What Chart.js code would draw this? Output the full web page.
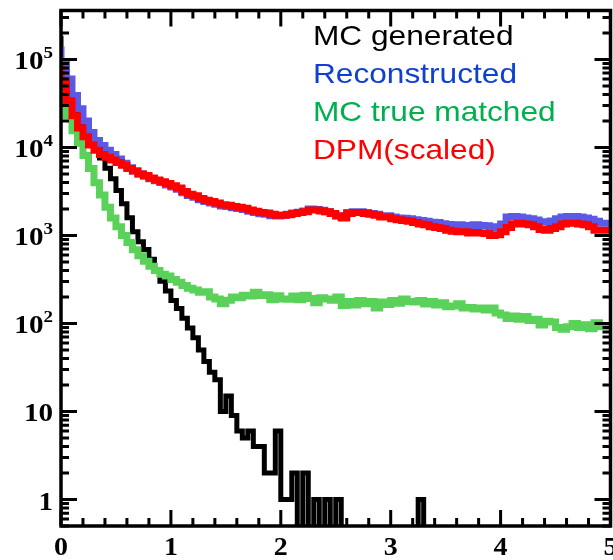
<!DOCTYPE html>
<html><head><meta charset="utf-8">
<script src="https://cdn.jsdelivr.net/npm/chart.js@4.4.0/dist/chart.umd.min.js"></script>
<style>html,body{margin:0;padding:0;background:#fff;}#wrap{width:613px;height:560px;}</style>
</head><body><div id="wrap"><canvas id="c" width="613" height="560"></canvas></div>
<script>
// ---- data (histograms, 100 bins of width 0.05 from 0 to 5) ----
const xRange = [0, 5];
const nBins = 100;
const seriesLabels = ["MC generated", "Reconstructed", "MC true matched", "DPM(scaled)"];
const mcGenerated = [186000,88000,58000,37000,25000,17500,13000,10000,7600,5800,
 4400,3240,2290,1585,1100,851,692,537,407,302,
 234,182,148,115,89,69,50,37,28,23,
 10,15,9,6,5,6,4,4,2,2,
 6,1,1,2,0,2,0,1,0,1,
 0,1,0,0,0,0,0,0,0,0,
 0,0,0,0,0,0,1,0,0,0,
 0,0,0,0,0,0,0,0,0,0,
 0,0,0,0,0,0,0,0,0,0,
 0,0,0,0,0,0,0,0,0,0];
const reconstructed = [140000,91000,60000,39000,27500,20000,14800,12000,10500,9300,
 8300,7400,6600,5900,5400,5000,4700,4400,4200,4000,
 3750,3550,3350,3050,2850,2720,2540,2430,2340,2260,
 2160,2140,2070,2020,1970,1880,1820,1760,1740,1680,
 1660,1700,1740,1800,1840,1900,2000,1970,1930,1860,
 1780,1680,1620,1820,1860,1860,1820,1780,1740,1680,
 1680,1620,1580,1570,1550,1510,1480,1450,1410,1400,
 1360,1330,1320,1320,1300,1290,1320,1300,1290,1230,
 1260,1350,1620,1640,1620,1580,1550,1500,1430,1410,
 1460,1550,1620,1640,1640,1620,1580,1530,1450,1380];
const mcTrueMatched = [52500,31600,22900,15500,11200,8130,5750,3980,2880,2090,
 1580,1260,1000,830,690,590,510,447,400,363,
 347,316,295,270,251,240,226,230,200,190,
 168,184,200,196,210,205,226,208,212,186,
 206,190,188,205,186,210,192,172,196,190,
 184,200,160,178,162,182,168,178,150,176,
 164,182,170,190,178,176,182,166,178,162,
 172,155,158,168,150,152,146,150,142,150,
 132,125,114,122,112,120,108,112,96,106,
 104,90,86,92,100,90,97,87,102,92];
const dpmScaled = [87000,57500,34000,23000,16600,13200,10700,9300,8300,7760,
 7200,6760,6300,5750,5400,5000,4800,4500,4270,4070,
 3900,3670,3470,3160,2950,2820,2630,2510,2430,2340,
 2240,2210,2140,2090,2040,1950,1880,1820,1800,1740,
 1700,1700,1720,1780,1820,1860,1950,1950,1900,1860,
 1780,1660,1580,1780,1820,1820,1780,1740,1700,1620,
 1620,1550,1510,1480,1450,1400,1350,1320,1260,1230,
 1200,1150,1120,1100,1100,1070,1080,1070,1050,1000,
 1020,1100,1230,1350,1380,1350,1320,1260,1170,1150,
 1200,1260,1350,1380,1380,1350,1320,1260,1150,1150];
const xTickValues = [0, 1, 2, 3, 4, 5];
const xTickLabels = ["0", "1", "2", "3", "4", "5"];
const yTickValues = [1, 10, 100, 1000, 10000, 100000];
const yTickBase = ["1", "10", "10", "10", "10", "10"];
const yTickExp = ["", "", "2", "3", "4", "5"];
const yRange = [0.5, 360000];

// ---- build histogram step points ----
function histPoints(vals) {
  const w = (xRange[1] - xRange[0]) / nBins;
  const pts = vals.map((v, i) => ({ x: xRange[0] + i * w, y: v > 0 ? v : 0.1 }));
  const last = vals[vals.length - 1];
  pts.push({ x: xRange[1], y: last > 0 ? last : 0.1 });
  return pts;
}
const lineColors = ["#000000", "#5a5ae6", "#5ad25a", "#ff0000"];
const textColors = ["#000000", "#1040d0", "#00b04f", "#ff0000"];
const allSeries = [mcGenerated, reconstructed, mcTrueMatched, dpmScaled];
const orders = [3, 2, 1, 0];
const widths = [5, 7, 7, 7];

const datasets = allSeries.map((s, k) => ({
  label: seriesLabels[k], data: histPoints(s), borderColor: lineColors[k],
  borderWidth: widths[k], stepped: 'after', pointRadius: 0, fill: false,
  tension: 0, clip: 0, borderJoinStyle: 'miter', borderCapStyle: 'butt', order: orders[k]
}));

function sText(ctx, t, x, y, align, sx) {
  ctx.save(); ctx.translate(x, y); ctx.scale(sx, 1); ctx.textAlign = align; ctx.fillText(t, 0, 0); ctx.restore();
}

const framePlugin = {
  id: 'frame',
  afterDatasetsDraw(chart) {
    const { ctx, chartArea: a, scales: { x, y } } = chart;
    ctx.save();
    ctx.strokeStyle = '#000'; ctx.fillStyle = '#000';
    ctx.lineWidth = 3;
    ctx.beginPath();
    for (let k = 0; k <= 25; k++) {
      const v = xRange[0] + k * 0.2;
      const px = x.getPixelForValue(v);
      const len = (k % 5 === 0) ? 16 : 8;
      ctx.moveTo(px, a.bottom); ctx.lineTo(px, a.bottom - len);
      ctx.moveTo(px, a.top); ctx.lineTo(px, a.top + len);
    }
    for (let e = -1; e <= 5; e++) {
      for (let m = 1; m <= 9; m++) {
        const v = m * Math.pow(10, e);
        if (v < yRange[0] || v > yRange[1]) continue;
        const py = y.getPixelForValue(v);
        const len = (m === 1) ? 16 : 8;
        ctx.moveTo(a.left, py); ctx.lineTo(a.left + len, py);
        ctx.moveTo(a.right, py); ctx.lineTo(a.right - len, py);
      }
    }
    ctx.stroke();
    ctx.lineWidth = 3.5;
    ctx.strokeRect(a.left, a.top, a.right - a.left, a.bottom - a.top);

    ctx.font = 'bold 25px "Liberation Serif"';
    ctx.textBaseline = 'alphabetic';
    xTickValues.forEach((v, i) => sText(ctx, xTickLabels[i], x.getPixelForValue(v), 555, 'center', 1.12));
    yTickValues.forEach((v, i) => {
      const py = y.getPixelForValue(v);
      const right = a.left - 8;
      let r = right;
      if (yTickExp[i]) {
        ctx.font = 'bold 17px "Liberation Serif"';
        sText(ctx, yTickExp[i], right, py - 1, 'right', 1.12);
        r = right - ctx.measureText(yTickExp[i]).width * 1.12;
      }
      ctx.font = 'bold 26px "Liberation Serif"';
      sText(ctx, yTickBase[i], r, py + 10, 'right', 1.12);
    });
    ctx.font = '28px "Liberation Sans"';
    const baselines = [45, 83, 121, 159];
    seriesLabels.forEach((t, k) => { ctx.fillStyle = textColors[k]; sText(ctx, t, 313, baselines[k], 'left', 1.13); });
    ctx.restore();
  }
};

new Chart(document.getElementById('c'), {
  type: 'line',
  data: { datasets },
  options: {
    responsive: false, animation: false, devicePixelRatio: 1,
    layout: { padding: { left: 61, right: 2.5, top: 10.5, bottom: 34 } },
    scales: {
      x: { type: 'linear', min: xRange[0], max: xRange[1], display: false },
      y: { type: 'logarithmic', min: yRange[0], max: yRange[1], display: false }
    },
    plugins: { legend: { display: false }, tooltip: { enabled: false } }
  },
  plugins: [framePlugin]
});
</script></body></html>
